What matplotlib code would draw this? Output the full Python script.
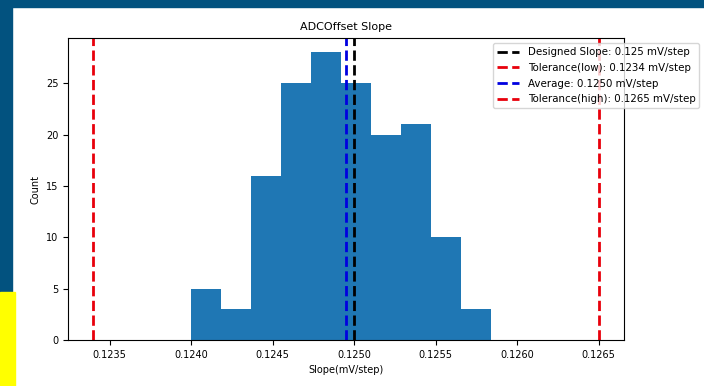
import numpy as np
import matplotlib
matplotlib.use("Agg")
import matplotlib.pyplot as plt
from matplotlib.patches import Rectangle

# histogram
counts = [5, 3, 16, 25, 28, 25, 20, 21, 10, 3]
slope_min = 0.123998
slope_max = 0.125840

designed = 0.125
tol_low = 0.1234
tol_high = 0.1265
average = 0.12495

labels = [
    "Designed Slope: 0.125 mV/step",
    "Tolerance(low): 0.1234 mV/step",
    "Average: 0.1250 mV/step",
    "Tolerance(high): 0.1265 mV/step",
]


def main():
    fig = plt.figure(figsize=(7.04, 3.86), dpi=100)
    fig.patch.set_facecolor("white")

    # screenshot frame around the plot
    blue = "#02527f"
    fig.patches.append(Rectangle((0, 1 - 7 / 386), 1, 7 / 386, transform=fig.transFigure,
                                 color=blue, zorder=0))
    fig.patches.append(Rectangle((0, 0), 12 / 704, 1, transform=fig.transFigure,
                                 color=blue, zorder=0))
    fig.patches.append(Rectangle((0, 0), 15 / 704, 94 / 386, transform=fig.transFigure,
                                 color="#ffff00", zorder=0))

    ax = fig.add_axes([68 / 704, 46 / 386, 556 / 704, 302 / 386])

    edges = np.linspace(slope_min, slope_max, len(counts) + 1)
    ax.hist(edges[:-1], bins=edges, weights=counts, color="#1f77b4")

    ax.axvline(designed, color="k", ls="--", lw=2, label=labels[0])
    ax.axvline(tol_low, color="#e8000b", ls="--", lw=2, label=labels[1])
    ax.axvline(average, color="#0000e0", ls="--", lw=2, label=labels[2])
    ax.axvline(tol_high, color="#e8000b", ls="--", lw=2, label=labels[3])

    ax.set_title("ADCOffset Slope", fontsize=8)
    ax.set_xlabel("Slope(mV/step)", fontsize=7)
    ax.set_ylabel("Count", fontsize=7)
    ax.set_xticks([0.1235, 0.1240, 0.1245, 0.1250, 0.1255, 0.1260, 0.1265])
    ax.set_xticklabels(["0.1235", "0.1240", "0.1245", "0.1250", "0.1255", "0.1260", "0.1265"])
    ax.tick_params(labelsize=7)
    ax.legend(loc="upper right", bbox_to_anchor=(1.145, 1.0), fontsize=7.4,
              labelspacing=0.55, handlelength=2.2)

    fig.savefig("out.png", dpi=100)


if __name__ == "__main__":
    main()
